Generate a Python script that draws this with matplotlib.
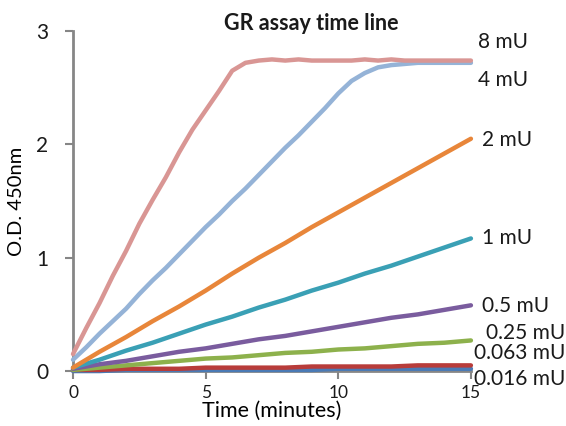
"""GR assay time line: O.D. 450nm vs time for a dilution series of GR."""

import matplotlib
matplotlib.use("Agg")
import matplotlib.pyplot as plt

plt.rcParams.update({
    "font.family": ["Lato", "DejaVu Sans"],
    "figure.dpi": 100,
    "text.color": "#1a1a1a",
    "xtick.labelcolor": "#1a1a1a",
    "ytick.labelcolor": "#1a1a1a",
})

# Data
t_fine = [0, 0.5, 1, 1.5, 2, 2.5, 3, 3.5, 4, 4.5, 5, 5.5, 6, 6.5, 7, 7.5,
          8, 8.5, 9, 9.5, 10, 10.5, 11, 11.5, 12, 12.5, 13, 13.5, 14, 14.5, 15]
t_coarse = [0, 1, 2, 3, 4, 5, 6, 7, 8, 9, 10, 11, 12, 13, 14, 15]

od_8mu = [0.15, 0.38, 0.60, 0.84, 1.06, 1.30, 1.51, 1.71, 1.93, 2.13, 2.30,
          2.47, 2.65, 2.72, 2.74, 2.75, 2.74, 2.75, 2.74, 2.74, 2.74, 2.74,
          2.75, 2.74, 2.75, 2.74, 2.74, 2.74, 2.74, 2.74, 2.74]
od_4mu = [0.10, 0.21, 0.33, 0.44, 0.55, 0.68, 0.80, 0.91, 1.03, 1.15, 1.27,
          1.38, 1.50, 1.61, 1.73, 1.85, 1.97, 2.08, 2.20, 2.32, 2.45, 2.56,
          2.63, 2.68, 2.70, 2.71, 2.72, 2.72, 2.72, 2.72, 2.72]
od_2mu = [0.03, 0.17, 0.30, 0.44, 0.57, 0.71, 0.86, 1.00, 1.13, 1.27, 1.40,
          1.53, 1.66, 1.79, 1.92, 2.05]
od_1mu = [0.03, 0.10, 0.18, 0.25, 0.33, 0.41, 0.48, 0.56, 0.63, 0.71, 0.78,
          0.86, 0.93, 1.01, 1.09, 1.17]
od_05mu = [0.02, 0.06, 0.09, 0.13, 0.17, 0.20, 0.24, 0.28, 0.31, 0.35, 0.39,
           0.43, 0.47, 0.50, 0.54, 0.58]
od_025mu = [0.01, 0.03, 0.05, 0.07, 0.09, 0.11, 0.12, 0.14, 0.16, 0.17, 0.19,
            0.20, 0.22, 0.24, 0.25, 0.27]
od_0063mu = [0.01, 0.01, 0.02, 0.02, 0.02, 0.03, 0.03, 0.03, 0.03, 0.04, 0.04,
             0.04, 0.04, 0.05, 0.05, 0.05]
od_0016mu = [0.00, 0.00, 0.01, 0.01, 0.01, 0.01, 0.01, 0.01, 0.01, 0.01, 0.02,
             0.02, 0.02, 0.02, 0.02, 0.02]

series = [
    ("8 mU", t_fine, od_8mu, "#d99694", 15.25, 2.90),
    ("4 mU", t_fine, od_4mu, "#95b3d7", 15.25, 2.57),
    ("2 mU", t_coarse, od_2mu, "#e8863a", 15.43, 2.04),
    ("1 mU", t_coarse, od_1mu, "#3aa0b5", 15.43, 1.17),
    ("0.5 mU", t_coarse, od_05mu, "#7a5c9e", 15.43, 0.57),
    ("0.25 mU", t_coarse, od_025mu, "#8db14c", 15.55, 0.34),
    ("0.063 mU", t_coarse, od_0063mu, "#b83c3a", 15.13, 0.16),
    ("0.016 mU", t_coarse, od_0016mu, "#4a7ab5", 15.13, -0.07),
]

fig = plt.figure(figsize=(5.66, 4.26))
ax = fig.add_axes([0.129, 0.129, 0.703, 0.798])

for label, t, od, color, lx, ly in series[::-1]:
    ax.plot(t, od, color=color, lw=3.2, solid_capstyle="round",
            solid_joinstyle="round", clip_on=False, zorder=3)
for label, t, od, color, lx, ly in series:
    ax.text(lx, ly, label, fontsize=15, ha="left", va="center")

ax.set_xlim(0, 15)
ax.set_ylim(0, 3)
ax.set_xticks([0, 5, 10, 15])
ax.set_yticks([0, 1, 2, 3])
ax.tick_params(axis="x", labelsize=12.5, length=6, width=1.5, color="#868686", pad=4)
ax.tick_params(axis="y", labelsize=15, length=6, width=1.5, color="#868686", pad=12)
for s in ("top", "right"):
    ax.spines[s].set_visible(False)
for s in ("left", "bottom"):
    ax.spines[s].set_color("#868686")
    ax.spines[s].set_linewidth(2)

ax.set_xlabel("Time (minutes)", fontsize=15.5, labelpad=0)
ax.set_ylabel("O.D. 450nm", fontsize=14.5, labelpad=8)
fig.text(0.55, 0.945, "GR assay time line", fontsize=15.5, fontweight="bold",
         ha="center", va="center")

fig.savefig("out.png", dpi=100)
